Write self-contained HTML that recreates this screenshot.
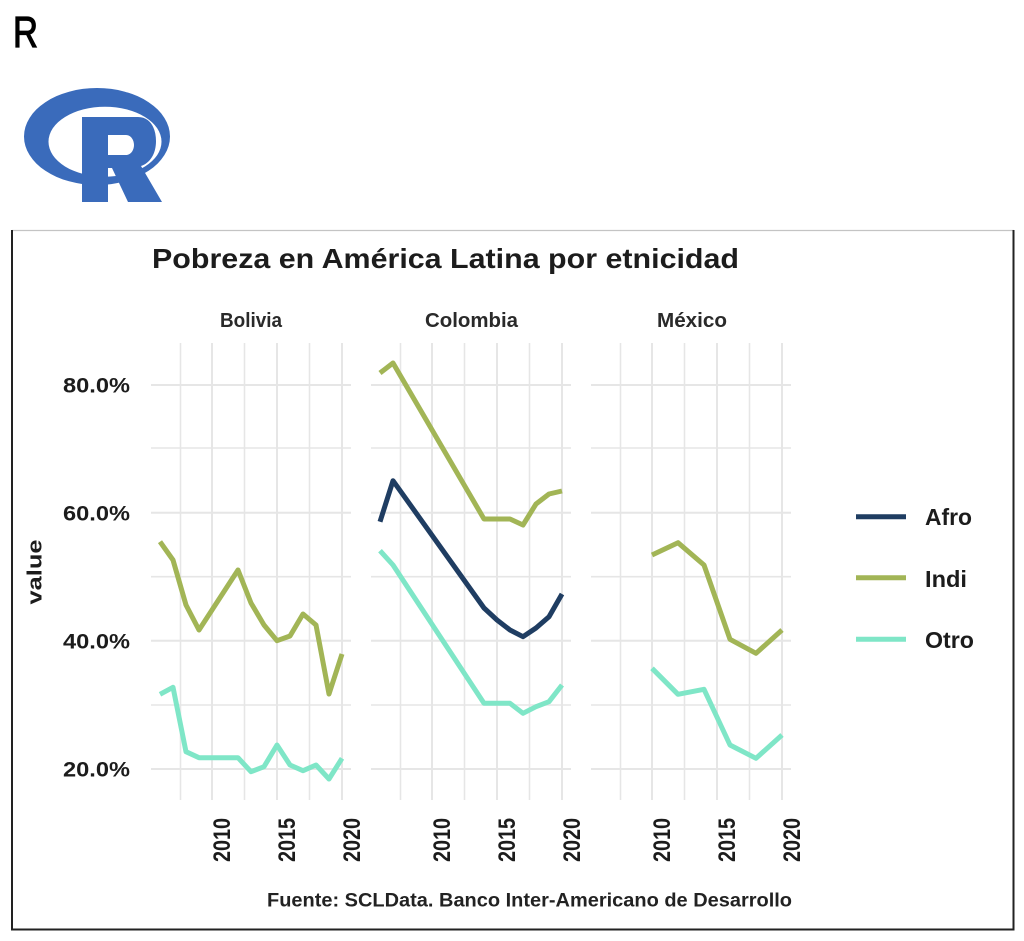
<!DOCTYPE html>
<html>
<head>
<meta charset="utf-8">
<style>
html,body{margin:0;padding:0;background:#fff;}
svg{display:block;}
</style>
</head>
<body>
<svg width="1024" height="941" viewBox="0 0 1024 941" xmlns="http://www.w3.org/2000/svg" font-family="'Liberation Sans', sans-serif">
  <rect x="0" y="0" width="1024" height="941" fill="#fff"/>

  <!-- Top "R" -->
  <text x="13" y="47" font-size="44" fill="#000" stroke="#000" stroke-width="1.2" textLength="25" lengthAdjust="spacingAndGlyphs">R</text>

  <!-- R logo -->
  <path fill="#3a6bbb" fill-rule="evenodd" d="M24,136.5 a73,48.5 0 1,0 146,0 a73,48.5 0 1,0 -146,0 Z M48.5,141.7 a56.5,35 0 1,0 113,0 a56.5,35 0 1,0 -113,0 Z"/>
  <path fill="#3a6bbb" fill-rule="evenodd" d="M82,117 L138,117 C150,117 156,128 156,141 C156,154 150,163 141,166 L162,202 L128,202 L112,168 L108,168 L108,202 L82,202 Z M108,135 L126,135 C131,135 134,140 134,145 C134,150 131,155 126,155 L108,155 Z"/>

  <!-- Frame -->
  <line x1="12" y1="230.5" x2="1014" y2="230.5" stroke="#c4c4c4" stroke-width="1.2"/>
  <line x1="12" y1="230" x2="12" y2="930" stroke="#222" stroke-width="2"/>
  <line x1="1013.5" y1="230" x2="1013.5" y2="930" stroke="#222" stroke-width="2"/>
  <line x1="11" y1="929.5" x2="1014.5" y2="929.5" stroke="#222" stroke-width="2"/>

  <!-- Title -->
  <text x="152" y="268" font-size="28" font-weight="bold" fill="#1c1c1c" textLength="587" lengthAdjust="spacingAndGlyphs">Pobreza en América Latina por etnicidad</text>

  <!-- Strip labels -->
  <text x="220" y="327" font-size="20" font-weight="bold" fill="#2a2a2a" textLength="62" lengthAdjust="spacingAndGlyphs">Bolivia</text>
  <text x="425" y="327" font-size="20" font-weight="bold" fill="#2a2a2a" textLength="93" lengthAdjust="spacingAndGlyphs">Colombia</text>
  <text x="657" y="327" font-size="20" font-weight="bold" fill="#2a2a2a" textLength="70" lengthAdjust="spacingAndGlyphs">México</text>

  <!-- Grids -->
  <g stroke="#e6e6e6" fill="none">
    <g stroke-width="2">
      <line x1="151" y1="385" x2="351" y2="385"/><line x1="151" y1="512.7" x2="351" y2="512.7"/>
      <line x1="151" y1="640.7" x2="351" y2="640.7"/><line x1="151" y1="769" x2="351" y2="769"/>
      <line x1="212" y1="343" x2="212" y2="800"/><line x1="277" y1="343" x2="277" y2="800"/><line x1="342" y1="343" x2="342" y2="800"/>
    </g>
    <g stroke-width="1.6">
      <line x1="151" y1="448" x2="351" y2="448"/><line x1="151" y1="576.7" x2="351" y2="576.7"/><line x1="151" y1="705" x2="351" y2="705"/>
      <line x1="180.5" y1="343" x2="180.5" y2="800"/><line x1="244.5" y1="343" x2="244.5" y2="800"/><line x1="309.5" y1="343" x2="309.5" y2="800"/>
    </g>
    <g stroke-width="2">
      <line x1="371" y1="385" x2="571" y2="385"/><line x1="371" y1="512.7" x2="571" y2="512.7"/>
      <line x1="371" y1="640.7" x2="571" y2="640.7"/><line x1="371" y1="769" x2="571" y2="769"/>
      <line x1="432" y1="343" x2="432" y2="800"/><line x1="497" y1="343" x2="497" y2="800"/><line x1="562" y1="343" x2="562" y2="800"/>
    </g>
    <g stroke-width="1.6">
      <line x1="371" y1="448" x2="571" y2="448"/><line x1="371" y1="576.7" x2="571" y2="576.7"/><line x1="371" y1="705" x2="571" y2="705"/>
      <line x1="400.5" y1="343" x2="400.5" y2="800"/><line x1="464.5" y1="343" x2="464.5" y2="800"/><line x1="529.5" y1="343" x2="529.5" y2="800"/>
    </g>
    <g stroke-width="2">
      <line x1="591" y1="385" x2="791" y2="385"/><line x1="591" y1="512.7" x2="791" y2="512.7"/>
      <line x1="591" y1="640.7" x2="791" y2="640.7"/><line x1="591" y1="769" x2="791" y2="769"/>
      <line x1="652" y1="343" x2="652" y2="800"/><line x1="717" y1="343" x2="717" y2="800"/><line x1="782" y1="343" x2="782" y2="800"/>
    </g>
    <g stroke-width="1.6">
      <line x1="591" y1="448" x2="791" y2="448"/><line x1="591" y1="576.7" x2="791" y2="576.7"/><line x1="591" y1="705" x2="791" y2="705"/>
      <line x1="620.5" y1="343" x2="620.5" y2="800"/><line x1="684.5" y1="343" x2="684.5" y2="800"/><line x1="749.5" y1="343" x2="749.5" y2="800"/>
    </g>
  </g>

  <!-- Y axis labels -->
  <g font-size="21" font-weight="bold" fill="#1c1c1c">
    <text x="63" y="392.5" textLength="67" lengthAdjust="spacingAndGlyphs">80.0%</text>
    <text x="63" y="520.5" textLength="67" lengthAdjust="spacingAndGlyphs">60.0%</text>
    <text x="63" y="648.5" textLength="67" lengthAdjust="spacingAndGlyphs">40.0%</text>
    <text x="63" y="776.5" textLength="67" lengthAdjust="spacingAndGlyphs">20.0%</text>
  </g>
  <text transform="translate(41.5,604.5) rotate(-90)" font-size="20" font-weight="bold" fill="#1c1c1c" textLength="65" lengthAdjust="spacingAndGlyphs">value</text>

  <!-- X axis labels -->
  <g font-size="24" font-weight="bold" fill="#1c1c1c">
    <text transform="translate(230,862) rotate(-90)" textLength="44" lengthAdjust="spacingAndGlyphs">2010</text>
    <text transform="translate(295,862) rotate(-90)" textLength="44" lengthAdjust="spacingAndGlyphs">2015</text>
    <text transform="translate(360,862) rotate(-90)" textLength="44" lengthAdjust="spacingAndGlyphs">2020</text>
    <text transform="translate(450,862) rotate(-90)" textLength="44" lengthAdjust="spacingAndGlyphs">2010</text>
    <text transform="translate(515,862) rotate(-90)" textLength="44" lengthAdjust="spacingAndGlyphs">2015</text>
    <text transform="translate(580,862) rotate(-90)" textLength="44" lengthAdjust="spacingAndGlyphs">2020</text>
    <text transform="translate(670,862) rotate(-90)" textLength="44" lengthAdjust="spacingAndGlyphs">2010</text>
    <text transform="translate(735,862) rotate(-90)" textLength="44" lengthAdjust="spacingAndGlyphs">2015</text>
    <text transform="translate(800,862) rotate(-90)" textLength="44" lengthAdjust="spacingAndGlyphs">2020</text>
  </g>

  <!-- Series -->
  <g fill="none" stroke-width="5" stroke-linejoin="round">
    <polyline stroke="#a2b556" points="160,541.7 173,560 186,605 199,630 238,570 251,603 264,625 277,640.7 290,636 303,614 316,625 329,694 342,654"/>
    <polyline stroke="#7fe6c7" points="160,694.3 173,687.3 186,751.7 199,757.7 238,757.7 251,771.7 264,766.7 277,745 290,765 303,770.7 316,765 329,779 342,758.3"/>
    <polyline stroke="#1f3d62" points="380,521.7 393,480.7 484,608 497,620 510,630 523,636.7 536,628 549,616.7 562,594"/>
    <polyline stroke="#a2b556" points="380,373 393,363 484,519 510,519 523,525 536,504 549,494 562,491"/>
    <polyline stroke="#7fe6c7" points="380,550.7 393,565 484,703.3 510,703.3 523,713.3 536,706.7 549,701.7 562,685"/>
    <polyline stroke="#a2b556" points="652,555 678,542.7 704,565 730,639.3 756,653.3 782,630"/>
    <polyline stroke="#7fe6c7" points="652,668.3 678,694.3 704,689.3 730,745 756,758.3 782,735"/>
  </g>

  <!-- Legend -->
  <g stroke-width="5">
    <line x1="856" y1="516.7" x2="906" y2="516.7" stroke="#1f3d62"/>
    <line x1="856" y1="577.7" x2="906" y2="577.7" stroke="#a2b556"/>
    <line x1="856" y1="639.3" x2="906" y2="639.3" stroke="#7fe6c7"/>
  </g>
  <g font-size="23" font-weight="bold" fill="#1c1c1c">
    <text x="925" y="525" textLength="47" lengthAdjust="spacingAndGlyphs">Afro</text>
    <text x="925" y="587" textLength="42" lengthAdjust="spacingAndGlyphs">Indi</text>
    <text x="925" y="648" textLength="49" lengthAdjust="spacingAndGlyphs">Otro</text>
  </g>

  <!-- Caption -->
  <text x="267" y="906.5" font-size="19" font-weight="bold" fill="#222" textLength="525" lengthAdjust="spacingAndGlyphs">Fuente: SCLData. Banco Inter-Americano de Desarrollo</text>
</svg>
</body>
</html>
